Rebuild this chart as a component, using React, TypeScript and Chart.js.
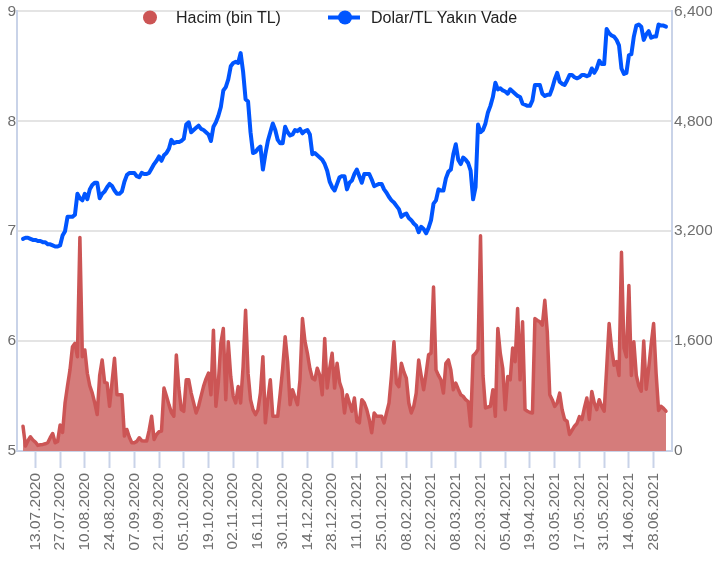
import React, { useEffect, useRef } from "react";
import { Chart, registerables } from "chart.js";

Chart.register(...registerables);

// ---- data ----
const startDate = "2020-07-06"; // first business day shown
const seriesNames = ["Hacim (bin TL)", "Dolar/TL Yakın Vade"];
const leftTicks = [5, 6, 7, 8, 9];
const rightTicks = [0, 1600, 3200, 4800, 6400];
const firstLabelIndex = 5; // 13.07.2020
const labelEvery = 10; // every second Monday

const dolar = [
  6.93, 6.94, 6.94, 6.93, 6.92, 6.92, 6.91, 6.91, 6.90, 6.90,
  6.88, 6.88, 6.87, 6.86, 6.86, 6.87, 6.96, 7.00, 7.13, 7.13,
  7.13, 7.15, 7.34, 7.30, 7.28, 7.34, 7.29, 7.38, 7.42, 7.44,
  7.44, 7.30, 7.34, 7.36, 7.40, 7.43, 7.41, 7.37, 7.34, 7.34,
  7.36, 7.45, 7.51, 7.53, 7.53, 7.53, 7.50, 7.49, 7.53, 7.52,
  7.52, 7.53, 7.57, 7.61, 7.64, 7.68, 7.64, 7.69, 7.71, 7.75,
  7.83, 7.80, 7.81, 7.81, 7.82, 7.84, 7.97, 7.99, 7.90, 7.92,
  7.94, 7.96, 7.93, 7.92, 7.90, 7.88, 7.82, 7.95, 7.99, 8.05,
  8.13, 8.28, 8.31, 8.38, 8.50, 8.53, 8.54, 8.53, 8.62, 8.45,
  8.20, 8.18, 7.90, 7.71, 7.72, 7.75, 7.77, 7.56, 7.70, 7.82,
  7.90, 7.98, 7.92, 7.83, 7.80, 7.80, 7.95, 7.90, 7.87, 7.88,
  7.92, 7.91, 7.93, 7.89, 7.91, 7.92, 7.88, 7.70, 7.71, 7.69,
  7.67, 7.65, 7.61, 7.55, 7.45, 7.40, 7.37, 7.43, 7.49, 7.50,
  7.50, 7.38, 7.44, 7.46, 7.52, 7.56, 7.50, 7.44, 7.52, 7.52,
  7.52, 7.47, 7.41, 7.42, 7.43, 7.43, 7.38, 7.35, 7.31, 7.28,
  7.26, 7.23, 7.20, 7.13, 7.15, 7.16, 7.12, 7.10, 7.07, 7.05,
  6.99, 7.04, 7.02, 6.98, 7.03, 7.10, 7.25, 7.28, 7.38, 7.37,
  7.37, 7.48, 7.54, 7.56, 7.70, 7.79, 7.65, 7.61, 7.67, 7.65,
  7.62, 7.55, 7.29, 7.40, 7.97, 7.90, 7.92, 7.98, 8.08, 8.14,
  8.22, 8.35, 8.29, 8.30, 8.28, 8.27, 8.25, 8.29, 8.27, 8.25,
  8.23, 8.22, 8.16, 8.15, 8.14, 8.14, 8.19, 8.33, 8.33, 8.33,
  8.25, 8.23, 8.24, 8.24, 8.30, 8.38, 8.44, 8.36, 8.34, 8.33,
  8.37, 8.42, 8.42, 8.40, 8.39, 8.40, 8.42, 8.42, 8.41, 8.42,
  8.48, 8.44, 8.48, 8.55, 8.52, 8.52, 8.84, 8.80, 8.78, 8.77,
  8.74, 8.69, 8.48, 8.43, 8.44, 8.60, 8.61, 8.77, 8.87, 8.88,
  8.86, 8.74, 8.79, 8.82, 8.76, 8.77, 8.77, 8.88, 8.87, 8.87, 8.86,
];

const hacim = [
  361, 72, 150, 207, 160, 130, 82, 90, 96, 105,
  120, 193, 255, 120, 140, 380, 270, 700, 950, 1181,
  1518, 1566, 1373, 3109, 1373, 1470, 1132, 950, 843, 700,
  530, 1100, 1325, 1000, 988, 650, 1000, 1350, 819, 819,
  819, 217, 313, 200, 120, 120, 140, 193, 150, 145,
  145, 300, 506, 169, 241, 280, 289, 916, 800, 675,
  560, 506, 1398, 916, 602, 578, 1036, 1036, 843, 700,
  554, 651, 800, 940, 1050, 1133, 819, 1759, 651, 1000,
  1566, 1783, 747, 1590, 1084, 800, 699, 940, 699, 1229,
  2048, 1133, 747, 602, 530, 600, 843, 1373, 410, 747,
  1036, 506, 506, 506, 843, 1200, 1663, 1300, 675, 892,
  780, 675, 1036, 1928, 1600, 1422, 1200, 1060, 1036, 1205,
  1100, 819, 1639, 916, 1200, 1422, 916, 1277, 1000, 892,
  554, 819, 700, 578, 771, 434, 410, 747, 700, 602,
  458, 265, 554, 506, 506, 506, 410, 554, 700, 1100,
  1590, 988, 937, 1277, 1150, 1060, 699, 554, 650, 843,
  1325, 1100, 892, 1133, 1400, 1422, 2386, 1181, 1100, 1036,
  843, 1277, 1325, 1181, 892, 988, 900, 819, 795, 747,
  720, 361, 1387, 1422, 1480, 3133, 1100, 627, 640, 651,
  892, 506, 1783, 1422, 1200, 602, 1084, 1036, 1500, 1300,
  2073, 1036, 1880, 602, 578, 560, 554, 1928, 1900, 1880,
  1832, 2193, 1735, 819, 747, 650, 699, 843, 602, 458,
  434, 241, 300, 361, 400, 500, 458, 627, 771, 460,
  867, 700, 602, 747, 650, 578, 1200, 1856, 1494, 1250,
  1301, 1100, 2892, 1500, 1370, 2410, 1100, 1590, 1100, 950,
  870, 1600, 900, 1200, 1550, 1856, 1133, 590, 651, 620, 580,
];

// ---- helpers ----
function businessDayLabels(start: string, n: number): string[] {
  const out: string[] = [];
  const d = new Date(start + "T00:00:00Z");
  while (out.length < n) {
    const wd = d.getUTCDay();
    if (wd !== 0 && wd !== 6) {
      const dd = String(d.getUTCDate()).padStart(2, "0");
      const mm = String(d.getUTCMonth() + 1).padStart(2, "0");
      out.push(`${dd}.${mm}.${d.getUTCFullYear()}`);
    }
    d.setUTCDate(d.getUTCDate() + 1);
  }
  return out;
}

const FONT = "Arial, 'Liberation Sans', sans-serif";
const AXIS_LINE = "#c9d3e8";
const RED_LINE = "#cc5555";
const RED_FILL = "#d57c7b";
const BLUE = "#0055ff";

export default function App() {
  const ref = useRef<HTMLCanvasElement | null>(null);

  useEffect(() => {
    if (!ref.current) return;
    const n = dolar.length;
    const dates = businessDayLabels(startDate, n);
    const tickIdx: number[] = [];
    for (let i = firstLabelIndex; i < n; i += labelEvery) tickIdx.push(i);

    const legendPlugin = {
      id: "topLegend",
      afterDraw(chart: any) {
        const c = chart.ctx;
        c.save();
        c.font = `16px ${FONT}`;
        c.textBaseline = "alphabetic";
        // Hacim legend
        c.beginPath();
        c.fillStyle = RED_LINE;
        c.arc(150, 17.5, 7, 0, Math.PI * 2);
        c.fill();
        c.fillStyle = "#222222";
        c.fillText(seriesNames[0], 176, 23);
        // Dolar legend
        c.strokeStyle = BLUE;
        c.lineWidth = 4;
        c.beginPath();
        c.moveTo(328, 17.5);
        c.lineTo(360, 17.5);
        c.stroke();
        c.beginPath();
        c.fillStyle = BLUE;
        c.arc(345, 17.5, 7, 0, Math.PI * 2);
        c.fill();
        c.fillStyle = "#222222";
        c.fillText(seriesNames[1], 371, 23);
        c.restore();
      },
    };

    const chart = new Chart(ref.current, {
      type: "line",
      data: {
        datasets: [
          {
            label: seriesNames[1],
            data: dolar.map((v, i) => ({ x: i, y: v })),
            yAxisID: "y",
            borderColor: BLUE,
            borderWidth: 4,
            borderJoinStyle: "round",
            borderCapStyle: "round",
            pointRadius: 0,
            tension: 0,
            fill: false,
            order: 0,
          },
          {
            label: seriesNames[0],
            data: hacim.map((v, i) => ({ x: i, y: v })),
            yAxisID: "y1",
            borderColor: RED_LINE,
            backgroundColor: RED_FILL,
            borderWidth: 3.5,
            borderJoinStyle: "round",
            borderCapStyle: "round",
            pointRadius: 0,
            tension: 0,
            fill: "origin",
            order: 1,
          },
        ],
      },
      options: {
        responsive: false,
        animation: false,
        layout: { padding: { top: 8, left: 0, right: 0, bottom: 0 } },
        plugins: {
          legend: { display: false },
          tooltip: { enabled: false },
        },
        scales: {
          x: {
            type: "linear",
            min: -2.43,
            max: n - 1 + 2.43,
            afterBuildTicks: (scale: any) => {
              scale.ticks = tickIdx.map((v) => ({ value: v }));
            },
            afterFit: (scale: any) => {
              scale.height = 112;
            },
            ticks: {
              autoSkip: false,
              minRotation: 90,
              maxRotation: 90,
              padding: 5,
              color: "#6e6e6e",
              font: { family: FONT, size: 15.5 },
              callback: (v: any) => dates[Math.round(Number(v))] ?? "",
            },
            grid: {
              drawOnChartArea: false,
              drawTicks: true,
              tickLength: 17,
              tickColor: AXIS_LINE,
              tickWidth: 2,
            },
            border: { color: AXIS_LINE, width: 2 },
          },
          y: {
            position: "left",
            min: 5,
            max: 9,
            afterBuildTicks: (scale: any) => {
              scale.ticks = leftTicks.map((v) => ({ value: v }));
            },
            afterFit: (scale: any) => {
              scale.width = 17;
            },
            ticks: {
              padding: 1,
              color: "#6e6e6e",
              font: { family: FONT, size: 15.5 },
              callback: (v: any) => String(v),
            },
            grid: {
              drawTicks: false,
              lineWidth: 2,
              color: (ctx: any) =>
                ctx.tick && ctx.tick.value === 5 ? "rgba(0,0,0,0)" : "#e4e4e4",
            },
            border: { color: AXIS_LINE, width: 2 },
          },
          y1: {
            position: "right",
            min: 0,
            max: 6400,
            afterBuildTicks: (scale: any) => {
              scale.ticks = rightTicks.map((v) => ({ value: v }));
            },
            afterFit: (scale: any) => {
              scale.width = 40;
            },
            ticks: {
              padding: 2,
              color: "#6e6e6e",
              font: { family: FONT, size: 15.5 },
              callback: (v: any) => Number(v).toLocaleString("en-US"),
            },
            grid: { drawOnChartArea: false, drawTicks: false },
            border: { color: AXIS_LINE, width: 2 },
          },
        },
      },
      plugins: [legendPlugin],
    } as any);

    return () => chart.destroy();
  }, []);

  return (
    <div style={{ position: "fixed", left: 0, top: 0, width: 712, height: 563, background: "#fff" }}>
      <canvas ref={ref} width={712} height={563} style={{ display: "block" }} />
    </div>
  );
}
